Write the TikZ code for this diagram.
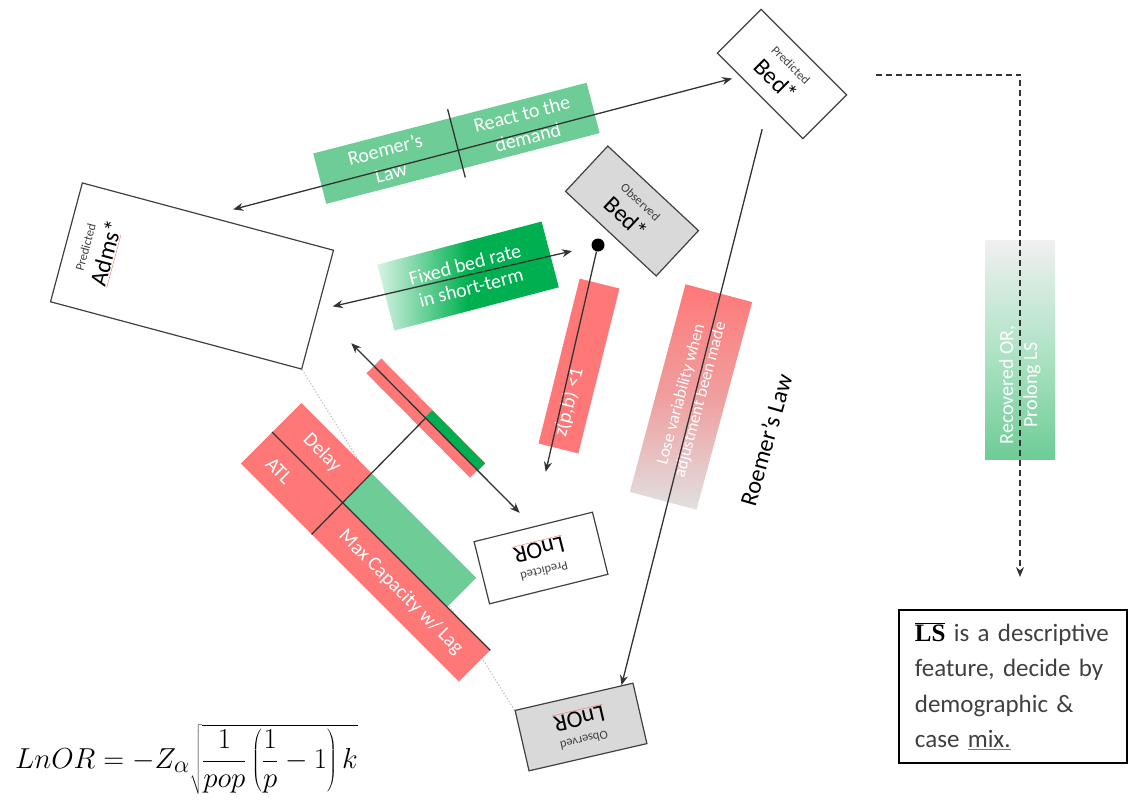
\documentclass[tikz,border=0pt]{standalone}
\usepackage{fontspec}
\setmainfont{Carlito}
\newfontfamily\serifbold{Liberation Serif}
\usetikzlibrary{positioning, calc, arrows.meta}

\definecolor{softgreen}{RGB}{110,204,150}
\definecolor{deepgreen}{RGB}{0,176,80}
\definecolor{softred}{RGB}{255,120,120}
\definecolor{boxgray}{RGB}{217,217,217}
\definecolor{ink}{RGB}{64,64,64}

\newcommand\tagsize{\fontsize{12.5}{13}\selectfont}
\newcommand\namesize{\fontsize{24}{25}\selectfont}
\newcommand\bandsize{\fontsize{20}{24}\selectfont}
\newcommand\losesize{\fontsize{17}{20}\selectfont}
\newcommand\lawsize{\fontsize{24}{28}\selectfont}
\newcommand\lssize{\fontsize{25}{35.5}\selectfont}
\newcommand\spellmark[1]{\textcolor{red!60}{\underline{\textcolor{black}{#1}}}}

\begin{document}
\begin{tikzpicture}[x=1pt, y=-1pt,
  tag/.style={draw=ink, line width=1.2pt, align=center, font=\namesize, text=black},
  band/.style={align=center, text=white, font=\bandsize, inner sep=0pt},
  link/.style={draw=black!80, line width=1.3pt},
  arrowto/.style={-{Stealth[length=10pt, width=8pt]}},
  arrowboth/.style={{Stealth[length=10pt, width=8pt]}-{Stealth[length=10pt, width=8pt]}},
  divider/.style={draw=black!80, line width=1.3pt}]
\useasboundingbox (0,0) rectangle (1128,804);

\node[tag, minimum width=121pt, minimum height=62pt, rotate=-45] (bedp) at (782,74) {{\tagsize\color{ink}Predicted}\\Bed*};
\node[tag, fill=boxgray, minimum width=124pt, minimum height=62pt, rotate=-43] (bedo) at (632,211) {{\tagsize\color{ink}Observed}\\Bed*};
\node[tag, minimum width=260pt, minimum height=123pt, rotate=-15] (adms) at (192,276) {};
\node[align=center, font=\namesize, rotate=75] (admsname) at ($(adms.west)!0.13!(adms.east)$) {{\tagsize\color{ink}Predicted}\\\spellmark{Adms}*};
\node[tag, minimum width=122pt, minimum height=64pt, rotate=194] (lnorp) at (541,558) {{\tagsize\color{ink}Predicted}\\\spellmark{LnOR}};
\node[tag, fill=boxgray, minimum width=121pt, minimum height=62pt, rotate=193] (lnoro) at (581,727) {{\tagsize\color{ink}Observed}\\\spellmark{LnOR}};

\node[band, fill=softgreen, minimum width=141pt, minimum height=52pt, rotate=14.5] (roemer) at (388,161) {Roemer's\\Law};
\node[band, fill=softgreen, minimum width=141pt, minimum height=52pt, rotate=14.5, anchor=west] (react) at (roemer.east) {React to the\\demand};
\draw[divider, shorten <=-9pt, shorten >=-9pt] (roemer.north east) -- (roemer.south east);

\node[band, left color=deepgreen!15, right color=deepgreen, middle color=deepgreen, minimum width=170pt, minimum height=68pt, rotate=14.7] (fixed) at (468,276) {Fixed bed rate\\in short-term};

\node[circle, fill=black, inner sep=0pt, minimum size=13pt] (pivot) at (598,245) {};
\node[band, fill=softred, minimum width=170pt, minimum height=41pt, rotate=76] (eps) at (579,366) {\makebox[146pt][l]{z\spellmark{\textcolor{white}{(p,b)}} <1}};
\node[band, font=\losesize, top color=softred, bottom color=boxgray!80, middle color=softred!60!boxgray, minimum width=215pt, minimum height=69pt, rotate=75] (lose) at (691,397) {Lose variability when\\adjustment been made};
\node[font=\lawsize, rotate=74] (law) at (766,440) {Roemer's Law};

\node[top color=black!6, bottom color=softgreen, middle color=softgreen!55!white, minimum width=219pt, minimum height=70pt, rotate=90] (recov) at (1020,350) {};
\node[band, rotate=90] (recovtext) at ([yshift=-35pt]recov.center) {Recovered OR,\\Prolong LS};

\node[draw=black, line width=1.8pt, anchor=north west, text width=196pt, inner xsep=16pt, minimum height=153pt, align=left, font=\lssize, text=ink] (lsbox) at (898,609) {{\color{black}$\overline{\hbox{\serifbold\bfseries LS}}$} is a descriptive\\feature, decide by\\demographic \&\\case \textcolor{blue!60}{\underline{\textcolor{ink}{mix.}}}};

\draw[black!25, dotted, line width=1.2pt] (adms.south east) -- (lnoro.south east);

\node[band, fill=softred, minimum width=100pt, minimum height=41pt, rotate=-45, anchor=south east] (delay) at (343,503) {Delay};
\node[band, fill=softred, minimum width=100pt, minimum height=44pt, rotate=-45, anchor=north east] (atl) at (delay.south east) {\makebox[64pt][l]{ATL}};
\node[band, fill=softgreen, minimum width=147pt, minimum height=41pt, rotate=-45, anchor=south west] (slack) at (delay.south east) {};
\node[band, fill=softred, minimum width=208pt, minimum height=44pt, rotate=-45, anchor=north west] (maxcap) at (delay.south east) {Max Capacity w/ Lag};

\path (adms.east) -- (lnorp.south)
  node[pos=0.5, sloped, fill=softred, minimum width=147pt, minimum height=21pt, inner sep=0pt] (barred) {}
  node[pos=0.62, sloped, anchor=south, fill=deepgreen, minimum width=75pt, minimum height=10pt, inner sep=0pt] (bargreen) {}
  coordinate[pos=0.5] (barmid);

\draw[link, arrowboth, shorten <=26pt, shorten >=8pt] (adms.north) -- ($(bedp.south west)!0.27!(bedp.south east)$);
\draw[link, arrowboth, shorten <=15pt, shorten >=20pt] (adms.east) -- (pivot);
\draw[link, arrowto, shorten >=56pt] (pivot) -- (lnorp.south);
\draw[link, arrowboth, shorten <=47pt, shorten >=19pt] (adms.east) -- (lnorp.south);
\draw[divider] (barmid) -- (atl.south east);
\draw[divider] (atl.north west) -- (maxcap.north east);
\draw[link, arrowto, shorten <=25pt] ($(bedp.south west)!0.6!(bedp.south east)$) -- ($(lnoro.south west)!0.1!(lnoro.south east)$);
\coordinate (dashstart) at ([xshift=28pt, yshift=20pt]bedp.north east);
\coordinate (dashend) at (recov |- lsbox.north);
\draw[link, arrowto, dash pattern=on 6pt off 4pt, shorten >=32pt] (dashstart) -| (dashend);

\node[anchor=base west, font=\Huge, inner sep=0pt, scale=1.16, transform shape] (lnorformula) at (15,768) {$\displaystyle LnOR=-Z_\alpha\sqrt{\frac{1}{pop}\left(\frac{1}{p}-1\right)k}$};
\end{tikzpicture}
\end{document}
